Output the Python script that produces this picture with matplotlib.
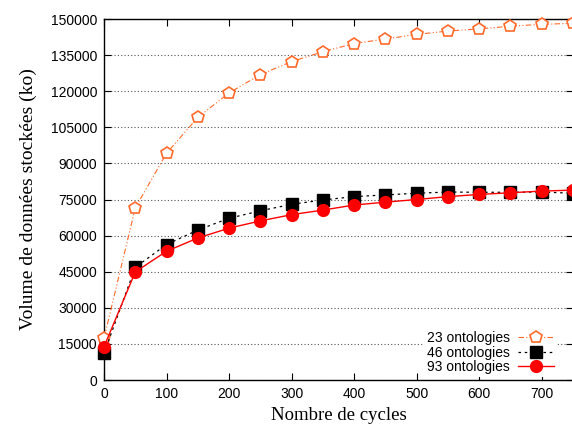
import matplotlib
matplotlib.use("Agg")
import matplotlib.pyplot as plt

cycles = [0, 50, 100, 150, 200, 250, 300, 350, 400, 450, 500, 550, 600, 650, 700, 750]

onto23 = [17300, 71500, 94200, 109100, 119300, 126900, 132300, 136400, 139800,
          141700, 143600, 145000, 145900, 147000, 147800, 148200]
onto46 = [11100, 46800, 56300, 62300, 67200, 70300, 73000, 74800, 76200,
          76900, 77600, 78100, 78000, 78000, 78100, 77600]
onto93 = [13800, 44900, 53500, 59000, 63100, 66100, 68700, 70600, 72700,
          73900, 75000, 76200, 77100, 77800, 78500, 78900]

yticks = list(range(0, 150001, 15000))
xticks = list(range(0, 701, 100))

W, H = 572, 424
fig = plt.figure(figsize=(W / 100, H / 100), dpi=100)
ax = fig.add_axes([104 / W, (H - 380) / H, 469 / W, 361 / H])

orange = "#ff6a2a"
ax.plot(cycles, onto23, color=orange, lw=0.8, ls=(0, (5, 2, 1, 2, 1, 2)),
        marker="p", ms=9, mfc="white", mec=orange, mew=1.2,
        label="23 ontologies", clip_on=False, zorder=3)
ax.plot(cycles, onto46, color="black", lw=0.9, ls=(0, (2, 3)),
        marker="s", ms=8, mfc="black", mec="black",
        label="46 ontologies", clip_on=False, zorder=4)
ax.plot(cycles, onto93, color="red", lw=1.0, ls="-",
        marker="o", ms=8.5, mfc="red", mec="red",
        label="93 ontologies", clip_on=False, zorder=5)

ax.set_xlim(0, 750)
ax.set_ylim(0, 150000)
ax.set_xticks(xticks)
ax.set_yticks(yticks)
ax.tick_params(direction="in", top=True, right=True, length=5, width=0.8,
               labelsize=10, pad=5)
for lab in ax.get_xticklabels() + ax.get_yticklabels():
    lab.set_fontfamily("Liberation Sans")

ax.yaxis.grid(True, ls=(0, (1, 2)), color="#555555", lw=0.8)
ax.set_axisbelow(True)
for s in ax.spines.values():
    s.set_linewidth(1.0)

ax.set_xlabel("Nombre de cycles", family="Liberation Serif", fontsize=13.5, labelpad=4)
ax.set_ylabel("Volume de données stockées (ko)", family="Liberation Serif",
              fontsize=14, labelpad=10)

leg = ax.legend(loc="lower right", bbox_to_anchor=(0.966, 0.008), markerfirst=False,
                numpoints=1, frameon=True, fancybox=False, framealpha=1,
                borderaxespad=0, handlelength=2.6, handletextpad=0.6,
                labelspacing=0.05, borderpad=0.2,
                prop={"family": "Liberation Sans", "size": 10})
leg.get_frame().set_edgecolor("none")
leg.get_frame().set_facecolor("white")
leg.set_zorder(6)

fig.savefig("out.png", dpi=100)
